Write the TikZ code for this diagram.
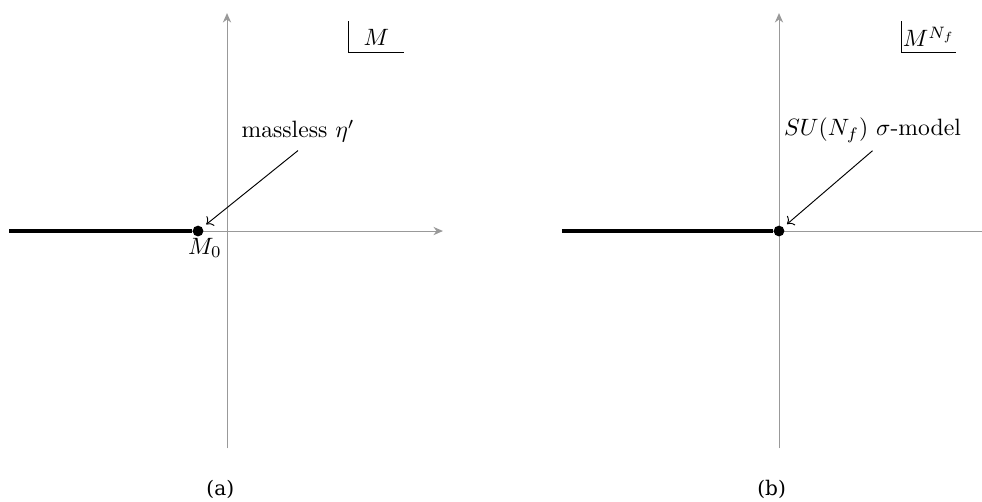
\documentclass[tikz,border=0pt]{standalone}
\usepackage{fontspec}
\newfontfamily\capfont{DejaVu Serif}
\usetikzlibrary{positioning,arrows.meta}
\tikzset{
  axis/.style={-{Stealth[length=4pt,width=3.5pt]},black!40,thin},
  axisopen/.style={black!40,thin},
  branch/.style={line width=1.3pt},
  mpt/.style={circle,fill=black,inner sep=0pt,minimum size=0.16cm},
  arr/.style={->,shorten >=2pt},
  plane/.style={inner sep=0pt,minimum width=0.8cm,minimum height=0.45cm},
  capt/.style={font=\capfont\fontsize{8.5}{10}\selectfont},
}

\begin{document}
\begin{tikzpicture}
  \useasboundingbox (0,0) rectangle (14.6,7.449);

  % (a) massless eta'
  \begin{scope}[shift={(3.375,4.014)}]
    \coordinate (aW) at (-3.24,0);
    \coordinate (aE) at (3.21,0);
    \coordinate (aS) at (0,-3.23);
    \coordinate (aN) at (0,3.24);
    \draw[axis] (aW) -- (aE);
    \draw[axis] (aS) -- (aN);

    \node[mpt] (aM0) at (-0.431,0) {};
    \draw[branch] (aW) -- (aM0);
    \node (aM0lbl) at (-0.327,-0.25) {$M_0$};

    \node (aeta) at (1.056,1.487) {massless $\eta'$};
    \draw[arr] (aeta.south) -- (aM0);

    \node[plane] (aplane) at (2.22,2.885) {$M$};
    \draw (aplane.north west) |- (aplane.south east);

    \node[capt] (acap) at (-0.1,-3.84) {(a)};
  \end{scope}

  % (b) sigma-model
  \begin{scope}[shift={(11.582,4.014)}]
    \coordinate (bW) at (-3.23,0);
    \coordinate (bE) at (3.02,0);
    \coordinate (bS) at (0,-3.23);
    \coordinate (bN) at (0,3.24);
    \draw[axisopen] (bW) -- (bE);
    \draw[axis] (bS) -- (bN);

    \node[mpt] (bO) at (0,0) {};
    \draw[branch] (bW) -- (bO);

    \node (bsig) at (1.39,1.50) {$SU(N_f)$ $\sigma$-model};
    \draw[arr] (bsig.south) -- (bO);

    \node[plane] (bplane) at (2.23,2.885) {$M^{N_f}$};
    \draw (bplane.north west) |- (bplane.south east);

    \node[capt] (bcap) at (-0.11,-3.84) {(b)};
  \end{scope}
\end{tikzpicture}
\end{document}
